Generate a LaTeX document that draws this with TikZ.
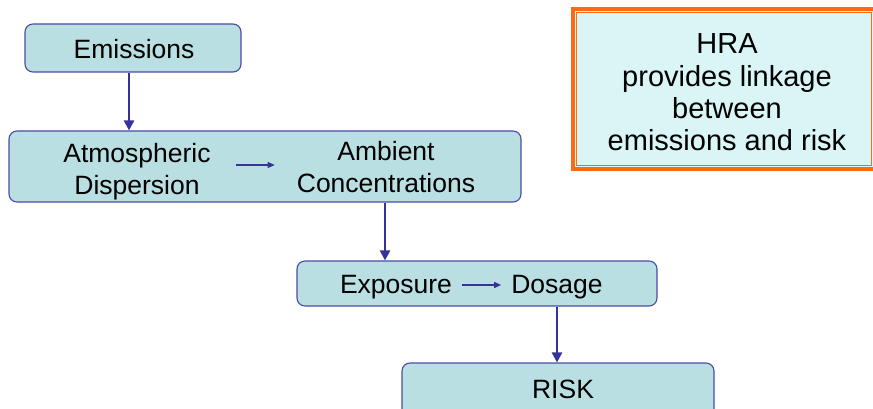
\documentclass[tikz,border=0pt]{standalone}
\usepackage{fontspec}
\setmainfont{Liberation Sans}
\usetikzlibrary{arrows.meta,calc}
\definecolor{boxfill}{HTML}{B9DFE2}
\definecolor{boxline}{HTML}{4B4BAA}
\definecolor{arrcol}{HTML}{333399}
\definecolor{hrafill}{HTML}{D9F5F5}
\definecolor{hraline}{HTML}{FF6A10}
\tikzset{
  flowbox/.style={draw=boxline, fill=boxfill, line width=1.1pt, rounded corners=8pt, inner sep=0pt},
  lbl/.style={inner sep=0pt, align=center, font=\fontsize{26.5}{32}\selectfont},
  bigarr/.style={draw=arrcol, line width=2.4pt, -{Triangle[length=10pt,width=10pt]}},
  smallarr/.style={draw=arrcol, line width=1.2pt, -{Triangle[length=7pt,width=6pt]}},
  hratext/.style={inner sep=0pt, align=center, font=\fontsize{29}{32.3}\selectfont}
}
\begin{document}
\begin{tikzpicture}[x=1pt,y=-1pt]
\useasboundingbox (0,0) rectangle (873,409);
\clip (0,0) rectangle (873,409);
% boxes
\node[flowbox, minimum width=216pt, minimum height=48pt] (emis) at (133,48) {};
\node[flowbox, minimum width=512pt, minimum height=71pt] (atmbox) at (265,166.5) {};
\node[flowbox, minimum width=360pt, minimum height=45pt] (expbox) at (477,283.5) {};
\node[flowbox, minimum width=312pt, minimum height=60pt] (riskbox) at (558,393) {};
% labels
\node[lbl] (emist) at (134,49.5) {Emissions};
\node[lbl] (atm) at (137,172) {Atmospheric\\Dispersion};
\node[lbl] (amb) at (386,167.5) {Ambient\\Concentrations};
\node[lbl] (exp) at (396,287) {Exposure};
\node[lbl] (dos) at (557,287) {Dosage};
\node[lbl] (risk) at (563,389) {RISK};
% inner arrows
\draw[smallarr, shorten <=25pt, shorten >=22pt] (atm.east |- 0,165) -- (amb.west |- 0,165);
\draw[smallarr, shorten <=10pt, shorten >=10pt] (exp.east |- 0,285) -- (dos.west |- 0,285);
% vertical arrows
\draw[bigarr] ([xshift=-4pt]emis.south) -- ([xshift=-4pt]emis.south |- atmbox.north);
\draw[bigarr] (atmbox.south -| 385,0) -- (expbox.north -| 385,0);
\draw[bigarr] (expbox.south -| dos) -- (riskbox.north -| dos);
% HRA box
\node[draw=hraline, fill=hrafill, line width=4.5pt, minimum width=302pt, minimum height=160pt, inner sep=0pt] (hra) at (724,89) {};
\draw[hraline, line width=0.9pt] ([shift={(5.5pt,5.5pt)}]hra.south west) rectangle ([shift={(-5.5pt,-5.5pt)}]hra.north east);
\node[hratext] (hrat) at (727,92.5) {HRA\\provides linkage\\between\\emissions and risk};
\end{tikzpicture}
\end{document}
